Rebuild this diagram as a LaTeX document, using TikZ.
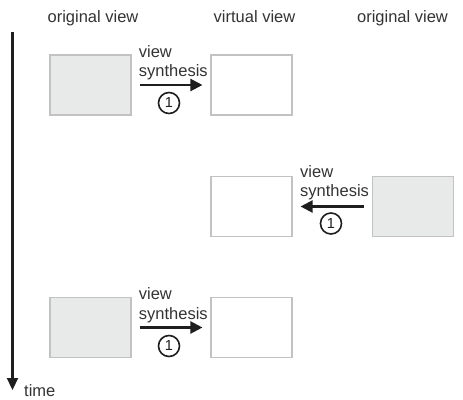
\documentclass[tikz,border=0pt]{standalone}
\usepackage{fontspec}
\setmainfont{Liberation Sans}
\usetikzlibrary{arrows.meta}
\definecolor{txt}{HTML}{333333}
\definecolor{ink}{HTML}{1E1E1E}
\definecolor{frame}{HTML}{C2C2C2}
\definecolor{shade}{HTML}{E8EAE9}
\tikzset{
  lbl/.style={font=\fontsize{16.5}{19}\selectfont, text=txt, inner sep=0pt},
  view/.style={draw=frame, line width=1.1pt, minimum width=81pt, minimum height=60pt, inner sep=0pt},
  origview/.style={view, fill=shade},
  virtview/.style={view, fill=white},
  synth/.style={draw=ink, line width=2.2pt, shorten <=8pt, shorten >=8pt,
    -{Triangle[length=12pt,width=12pt]}},
  stepnum/.style={circle, draw=ink, line width=1.6pt, minimum size=21pt, inner sep=0pt,
    font=\fontsize{14.5}{16}\selectfont, text=ink},
  timeaxis/.style={draw=ink, line width=2.2pt, -{Triangle[length=12pt,width=11pt]}}
}
\begin{document}
\begin{tikzpicture}[x=1pt, y=-1pt]
  \useasboundingbox (0,0) rectangle (463,399);

  % column headings
  \node[lbl, anchor=base] (h1) at (93,22.5) {original view};
  \node[lbl, anchor=base] (h2) at (254.5,22.5) {virtual view};
  \node[lbl, anchor=base] (h3) at (402.5,22.5) {original view};

  % time axis
  \coordinate (t0) at (12.5,32);
  \coordinate (t1) at (12.5,390);
  \draw[timeaxis] (t0) -- (t1);
  \node[lbl, anchor=base west] (time) at (24,396) {time};

  % first instant: left original view to virtual view
  \node[origview] (o1) at (90.5,85) {};
  \node[virtview] (v1) at (251.5,85) {};
  \draw[synth] (o1) -- (v1);
  \node[lbl, anchor=base west] (a1) at (138.7,57) {view};
  \node[lbl, anchor=base west] (b1) at (138.7,76) {synthesis};
  \node[stepnum] (n1) at (169,103) {1};

  % second instant: right original view to virtual view
  \node[virtview] (v2) at (251.5,206.5) {};
  \node[origview] (o2) at (413,206.5) {};
  \draw[synth] (o2) -- (v2);
  \node[lbl, anchor=base west] (a2) at (300,177) {view};
  \node[lbl, anchor=base west] (b2) at (300,196.5) {synthesis};
  \node[stepnum] (n2) at (331,223.5) {1};

  % third instant: left original view to virtual view
  \node[origview] (o3) at (90.5,327.5) {};
  \node[virtview] (v3) at (251.5,327.5) {};
  \draw[synth] (o3) -- (v3);
  \node[lbl, anchor=base west] (a3) at (138.7,299.5) {view};
  \node[lbl, anchor=base west] (b3) at (138.7,319) {synthesis};
  \node[stepnum] (n3) at (169,346) {1};
\end{tikzpicture}
\end{document}
